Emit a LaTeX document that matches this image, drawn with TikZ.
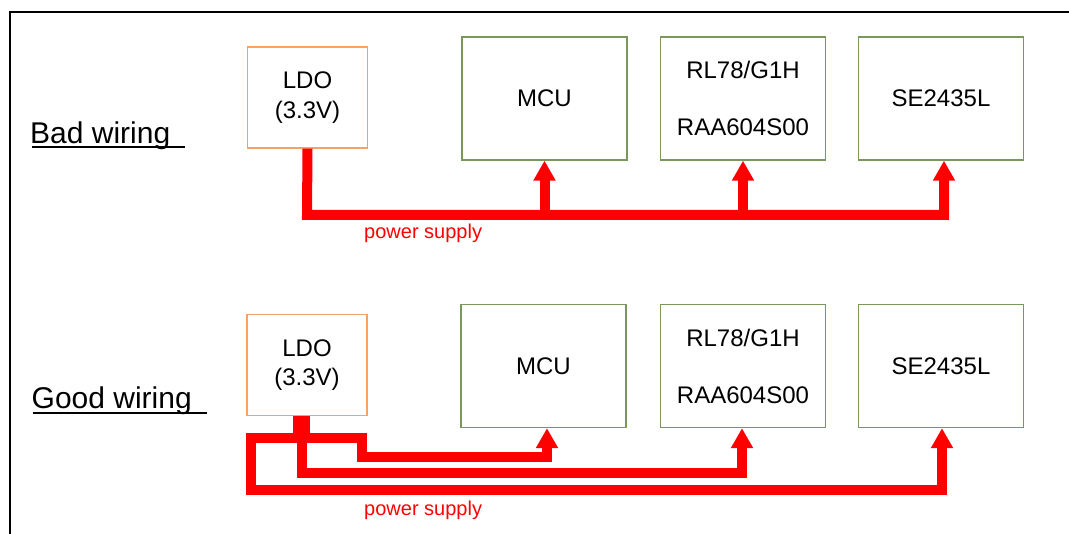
\documentclass[tikz,border=0pt]{standalone}
\usepackage{fontspec}
\setmainfont{Liberation Sans}
\usetikzlibrary{arrows.meta}
\definecolor{ldoorange}{RGB}{244,162,102}
\definecolor{boxgreen}{RGB}{122,152,92}
\begin{document}
\begin{tikzpicture}[x=1pt,y=-1pt,
  ldobox/.style={draw=ldoorange,line width=1.3pt,inner sep=0pt,minimum width=120pt,minimum height=101pt,align=center,font=\fontsize{24}{29.5}\selectfont},
  chipbox/.style={draw=boxgreen,line width=1.3pt,inner sep=0pt,minimum width=165pt,minimum height=123pt,align=center,font=\fontsize{24}{29.5}\selectfont},
  widelines/.style={font=\fontsize{24}{57}\selectfont},
  pw/.style={draw=red,line width=10pt,line join=miter},
  pwa/.style={pw,-{Triangle[length=20pt,width=21pt]}},
  heading/.style={anchor=base west,inner sep=0pt,font=\fontsize{30}{36}\selectfont},
  pslabel/.style={anchor=base west,inner sep=0pt,text=red,font=\fontsize{20}{24}\selectfont},
  uline/.style={line width=1.4pt}
]
\useasboundingbox (0,0) rectangle (1069,534);
% frame (cut off at right and bottom)
\draw[line width=1.2pt] (10,534) -- (10,12) -- (1069,12);

% ---------- Bad wiring ----------
\node[heading] (badlbl) at (30,144) {Bad wiring};
\draw[uline] ([xshift=2pt,yshift=-3pt]badlbl.base west) -- ++(153,0);

\node[ldobox] (ldoA) at (307.5,97.5) {LDO\\(3.3V)};
\node[chipbox] (mcuA) at (544.5,98.5) {MCU};
\node[chipbox,widelines] (rlA) at (743,98.5) {RL78/G1H\\RAA604S00};
\node[chipbox] (seA) at (941,98.5) {SE2435L};

\coordinate (busA) at (307,215);
\draw[pwa] (ldoA.south) -- (busA) -| ([xshift=3pt]seA.south);
\draw[pwa] (mcuA.south |- busA) -- (mcuA.south);
\draw[pwa] (rlA.south |- busA) -- (rlA.south);
\node[pslabel] (psA) at (364,239) {power supply};

% ---------- Good wiring ----------
\node[heading] (goodlbl) at (31.5,409) {Good wiring};
\draw[uline] ([xshift=1.5pt,yshift=-4pt]goodlbl.base west) -- ++(174,0);

\node[ldobox] (ldoB) at (307,365) {LDO\\(3.3V)};
\node[chipbox] (mcuB) at (543.5,366) {MCU};
\node[chipbox,widelines] (rlB) at (743,366) {RL78/G1H\\RAA604S00};
\node[chipbox] (seB) at (941,366) {SE2435L};

\coordinate (seTurn) at (251,438);
\coordinate (seLow) at (251,490);
\coordinate (mcuTurn) at (362,438);
\coordinate (mcuLow) at (362,457);
\coordinate (rlLow) at (302,473);

\draw[pwa] ([xshift=-9pt]ldoB.south) |- (seTurn) -- (seLow) -| ([xshift=1pt]seB.south);
\draw[pwa] ([xshift=-5pt]ldoB.south) -- (rlLow) -| ([xshift=-1pt]rlB.south);
\draw[pwa] ([xshift=-2pt]ldoB.south) |- (mcuTurn) -- (mcuLow) -| ([xshift=3.5pt]mcuB.south);
\node[pslabel] (psB) at (364,516) {power supply};
\end{tikzpicture}
\end{document}
